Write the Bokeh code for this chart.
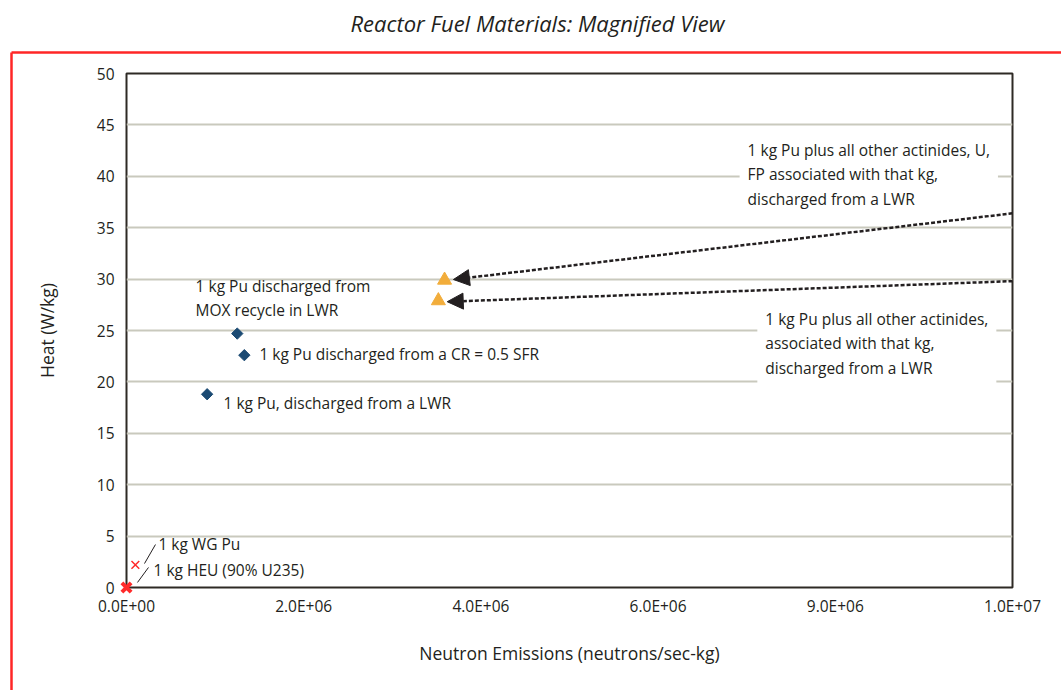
import math
from bokeh.plotting import figure
from bokeh.models import Range1d, Label, Arrow, NormalHead, FixedTicker
from bokeh.core.properties import value
from bokeh.embed import file_html
from bokeh.resources import INLINE

FONT = "Open Sans"
INK = "#231f20"
RED = "#ff2626"

# ---- data ----
title_text = "Reactor Fuel Materials: Magnified View"
x_ticks = [0, 2000000, 4000000, 6000000, 8000000, 10000000]
x_tick_labels = ["0.0E+00", "2.0E+06", "4.0E+06", "6.0E+06", "9.0E+06", "1.0E+07"]
y_ticks = [0, 5, 10, 15, 20, 25, 30, 35, 40, 45, 50]

# separated Pu (neutrons/sec-kg, W/kg)
pu_neutrons = [1.25e6, 1.33e6, 0.91e6]
pu_heat = [24.7, 22.6, 18.8]

# Pu plus other actinides (with / without FP)
act_neutrons = [3.59e6, 3.52e6]
act_heat = [29.9, 27.9]

# reference materials: WG Pu, HEU
wg_neutrons = [1.0e5]
wg_heat = [2.2]
heu_neutrons = [0.0]
heu_heat = [0.0]

# arrows from right-hand notes to the actinide points
arrow_x_start = [1.0e7, 1.0e7]
arrow_y_start = [36.4, 29.8]
arrow_x_end = [3.69e6, 3.62e6]
arrow_y_end = [29.96, 27.8]

p = figure(width=1061, height=690,
           x_range=Range1d(0, 1e7), y_range=Range1d(0, 50),
           output_backend="svg", toolbar_location=None,
           min_border_left=126, min_border_right=49,
           min_border_top=73, min_border_bottom=103)
p.background_fill_color = "white"
p.border_fill_color = "white"
p.outline_line_color = "#2e2a25"
p.outline_line_width = 2

# pixel -> data helpers for decorations outside the frame
PX_X = 886 / 1e7   # px per neutron unit
PX_Y = 514 / 50    # px per W/kg

# title (drawn as overlay text above the frame)
p.text(x=[(537 - 126) / PX_X], y=[50 + (73 - 22) / PX_Y], text=[title_text],
       text_align="center", text_baseline="middle",
       text_font=value(FONT), text_font_style="italic",
       text_font_size="22px", text_color=INK, level="overlay")

# axes
for ax in (p.xaxis, p.yaxis):
    ax.axis_line_color = None
    ax.major_tick_line_color = None
    ax.minor_tick_line_color = None
    ax.major_tick_out = 0
    ax.major_tick_in = 0
    ax.major_label_text_font = FONT
    ax.major_label_text_font_size = "15.5px"
    ax.major_label_text_color = INK
    ax.axis_label_text_font = FONT
    ax.axis_label_text_font_size = "17.5px"
    ax.axis_label_text_font_style = "normal"
    ax.axis_label_text_color = INK

p.xaxis.ticker = FixedTicker(ticks=x_ticks)
p.xaxis.major_label_overrides = {t: l for t, l in zip(x_ticks, x_tick_labels)}
p.xaxis.major_label_standoff = 7
p.xaxis.axis_label = "Neutron Emissions (neutrons/sec-kg)"
p.xaxis.axis_label_standoff = 21

p.yaxis.ticker = FixedTicker(ticks=y_ticks)
p.yaxis.major_label_standoff = 12
p.yaxis.axis_label = "Heat (W/kg)"
p.yaxis.axis_label_standoff = 35

p.xgrid.visible = False
p.ygrid.ticker = FixedTicker(ticks=y_ticks)
p.ygrid.grid_line_color = "#c9c9bd"
p.ygrid.grid_line_width = 2

# red page frame (top and left edges), drawn unclipped on the overlay level
frame_left = -(126 - 11) / PX_X
frame_top = 50 + (73 - 52) / PX_Y
p.segment(x0=[frame_left, frame_left], y0=[frame_top, frame_top],
          x1=[1.3e7, frame_left], y1=[frame_top, -20],
          line_color=RED, line_width=2.5, level="overlay")

# notes with white boxes
def note(x, y, text, box=False):
    kw = dict(x=x, y=y, text=text, text_align="left", text_baseline="middle",
              text_font=FONT, text_font_size="15.5px", text_color=INK,
              text_line_height=1.12)
    if box:
        kw.update(background_fill_color="white", padding=8)
    p.add_layout(Label(**kw))

note(6.92e6, 40.2, "1 kg Pu plus all other actinides, U,\nFP associated with that kg,\ndischarged from a LWR", box=True)
note(7.12e6, 23.75, "1 kg Pu plus all other actinides,\nassociated with that kg,\ndischarged from a LWR", box=True)
note(0.78e6, 28.15, "1 kg Pu discharged from\nMOX recycle in LWR")
note(1.50e6, 22.67, "1 kg Pu discharged from a CR = 0.5 SFR")
note(1.095e6, 17.9, "1 kg Pu, discharged from a LWR")
note(0.36e6, 4.28, "1 kg WG Pu")
note(0.305e6, 1.75, "1 kg HEU (90% U235)")

# leader lines
p.segment(x0=[0.203e6, 0.124e6], y0=[2.33, 0.49], x1=[0.327e6, 0.248e6], y1=[4.18, 1.95],
          line_color=INK, line_width=1)

# arrows
for xs, ys, xe, ye in zip(arrow_x_start, arrow_y_start, arrow_x_end, arrow_y_end):
    p.add_layout(Arrow(end=NormalHead(size=16, fill_color=INK, line_color=INK),
                       x_start=xs, y_start=ys, x_end=xe, y_end=ye,
                       line_color=INK, line_width=2.5, line_dash="4 2"))

# points
p.scatter(pu_neutrons, pu_heat, marker="square", angle=math.pi / 4, size=8,
          fill_color="#1b4a73", line_color="#1b4a73")
p.scatter(act_neutrons, act_heat, marker="triangle", size=14,
          fill_color="#f2ad3b", line_color="#f2ad3b")
p.scatter(wg_neutrons, wg_heat, marker="x", size=11, line_color="#ff2a2a", line_width=1.5)
p.scatter(heu_neutrons, heu_heat, marker="x", size=13, line_color="#ff2a2a", line_width=4,
          level="overlay")

open("out.html", "w").write(file_html(p, INLINE))
